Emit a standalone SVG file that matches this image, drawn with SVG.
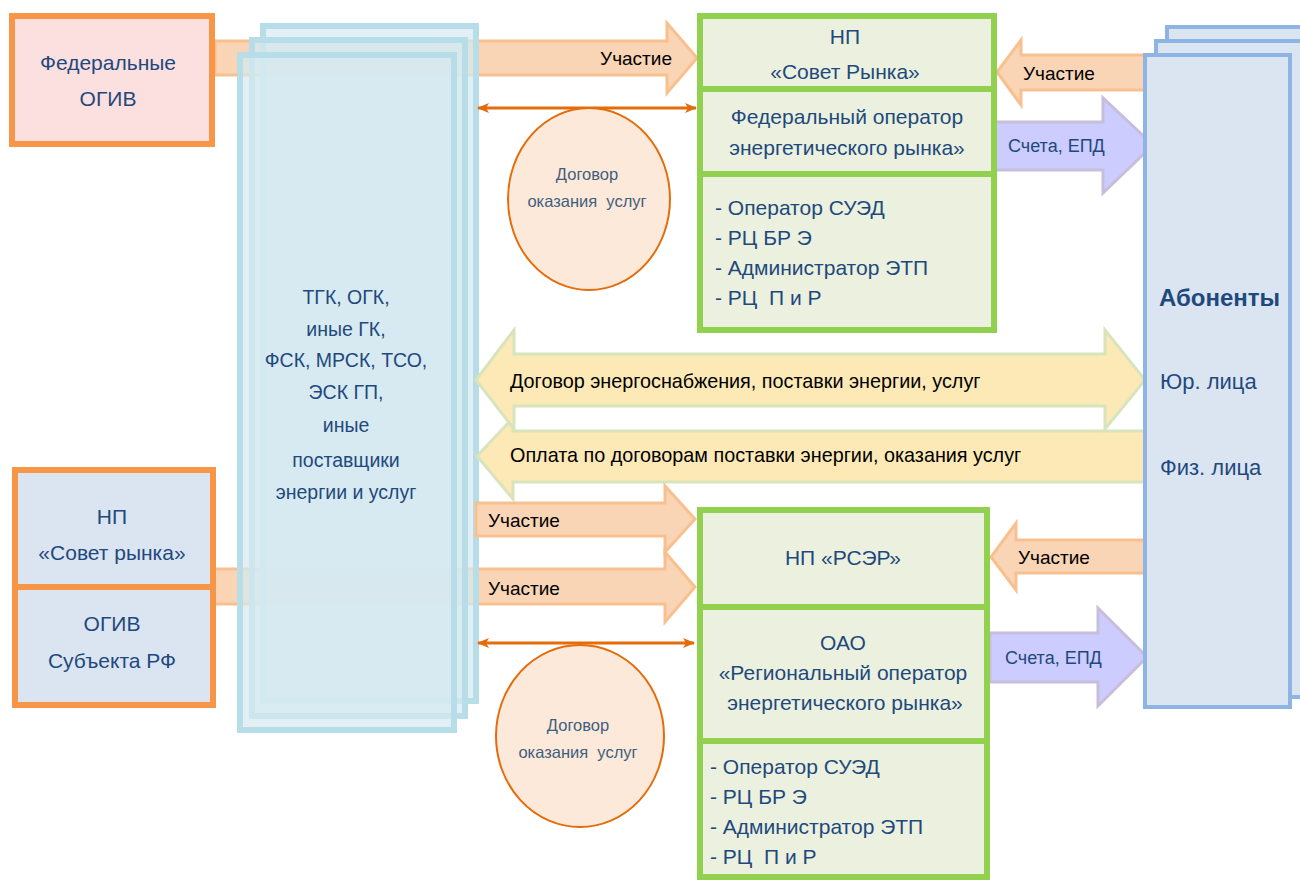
<svg xmlns="http://www.w3.org/2000/svg" width="1300" height="883" viewBox="0 0 1300 883">
<style>
  text{white-space:pre;}
  .t{font-family:"Liberation Sans",Arial,sans-serif;fill:#1f497d;}
  .c{text-anchor:middle;}
  .blk{font-family:"Liberation Sans",Arial,sans-serif;fill:#000;}
  .org{fill:#f9d5b6;stroke:#f9c08f;stroke-width:3;}
  .yel{fill:#fde9b6;stroke:#d7e4bc;stroke-width:3;}
  .pur{fill:#ccccff;stroke:#c8bddb;stroke-width:3;}
  .grn{fill:#ebf1de;stroke:#92d050;stroke-width:6;}
  .ob{stroke:#f79646;stroke-width:6;}
  .blu{fill:#d6eaf1;fill-opacity:0.7;stroke:#b7dde8;stroke-width:6;}
  .ab{fill:#dbe5f1;stroke:#8eb4e3;stroke-width:4;}
  .dbl{stroke:#e46c0a;stroke-width:3;fill:none;}
  .ell{fill:#fde9d9;stroke:#e46c0a;stroke-width:2;}
  .et{fill:#3f5f80;}
</style>
<defs>
  <marker id="ah" viewBox="0 0 12 10" refX="11" refY="5" markerWidth="12" markerHeight="10" markerUnits="userSpaceOnUse" orient="auto-start-reverse">
    <path d="M0,0 L12,5 L0,10 L3,5 z" fill="#e46c0a"/>
  </marker>
</defs>

<rect width="1300" height="883" fill="#ffffff"/>

<g id="connectors">
  <polygon class="org" points="215,41 667,41 667,23 697,58 667,93 667,75 215,75"/>
  <polygon class="org" points="213,569 665,569 665,552 695,587 665,622 665,604 213,604"/>
</g>

<g id="suppliers">
  <rect class="blu" x="263" y="26" width="213" height="675"/>
  <rect class="blu" x="252" y="40" width="213" height="676"/>
  <rect class="blu" x="240" y="55" width="214" height="675"/>
  <text class="t c" x="346" y="304" font-size="19.5">ТГК, ОГК,</text>
  <text class="t c" x="346" y="336" font-size="19.5">иные ГК,</text>
  <text class="t c" x="346" y="367" font-size="19.5">ФСК, МРСК, ТСО,</text>
  <text class="t c" x="346" y="399" font-size="19.5">ЭСК ГП,</text>
  <text class="t c" x="346" y="432" font-size="19.5">иные</text>
  <text class="t c" x="346" y="467" font-size="19.5">поставщики</text>
  <text class="t c" x="346" y="499" font-size="19.5">энергии и услуг</text>
</g>

<g id="connectors2">
  <text class="blk" x="672" y="65" font-size="19" text-anchor="end">Участие</text>
  <polygon class="org" points="1146,55 1021,55 1021,40 997,72 1021,105 1021,90 1146,90"/>
  <text class="blk" x="1023" y="80" font-size="19">Участие</text>
  <polygon class="pur" points="995,122 1103,122 1103,98 1153,145 1103,193 1103,170 995,170"/>
  <text class="t" x="1008" y="152" font-size="18">Счета, ЕПД</text>
  <line class="dbl" x1="478" y1="108" x2="696" y2="108" marker-start="url(#ah)" marker-end="url(#ah)"/>
  <polygon class="yel" points="1146,431 513,431 513,418 477,456 513,499 513,482 1146,482"/>
  <polygon class="yel" points="476,380 514,330 514,354 1105,354 1105,330 1145,380 1105,429 1105,406 514,406 514,429"/>
  <text class="blk" x="510" y="388" font-size="19.8">Договор энергоснабжения, поставки энергии, услуг</text>
  <text class="blk" x="510" y="462" font-size="19.8">Оплата по договорам поставки энергии, оказания услуг</text>
  <polygon class="org" points="476,503 665,503 665,486 695,519 665,552 665,536 476,536"/>
  <text class="blk" x="488" y="527" font-size="19">Участие</text>
  <text class="blk" x="488" y="595" font-size="19">Участие</text>
  <polygon class="org" points="1146,540 1016,540 1016,523 991,557 1016,590 1016,573 1146,573"/>
  <text class="blk" x="1018" y="564" font-size="19">Участие</text>
  <polygon class="pur" points="990,633 1098,633 1098,608 1147,657 1098,706 1098,682 990,682"/>
  <text class="t" x="1005" y="664" font-size="18">Счета, ЕПД</text>
  <line class="dbl" x1="478" y1="643" x2="694" y2="643" marker-start="url(#ah)" marker-end="url(#ah)"/>
</g>

<g id="federal-ogiv">
  <rect class="ob" x="12" y="16" width="200" height="128" fill="#fcdfdf"/>
  <text class="t c" x="108" y="70" font-size="21">Федеральные</text>
  <text class="t c" x="108" y="106" font-size="21">ОГИВ</text>
</g>

<g id="regional-left">
  <rect class="ob" x="15" y="470" width="198" height="117" fill="#dbe5f1"/>
  <rect class="ob" x="15" y="587" width="198" height="118" fill="#dbe5f1"/>
  <text class="t c" x="112" y="524" font-size="21">НП</text>
  <text class="t c" x="112" y="560" font-size="21">«Совет рынка»</text>
  <text class="t c" x="112" y="631" font-size="21">ОГИВ</text>
  <text class="t c" x="112" y="668" font-size="21">Субъекта РФ</text>
</g>

<g id="contract-top">
  <ellipse class="ell" cx="589" cy="199" rx="81" ry="91"/>
  <text class="t c et" x="587" y="180" font-size="16.5">Договор</text>
  <text class="t c et" x="587" y="207" font-size="16.5">оказания  услуг</text>
</g>
<g id="contract-bottom">
  <ellipse class="ell" cx="580" cy="736" rx="84" ry="91"/>
  <text class="t c et" x="578" y="731" font-size="16.5">Договор</text>
  <text class="t c et" x="578" y="758" font-size="16.5">оказания  услуг</text>
</g>

<g id="federal-block">
  <rect class="grn" x="700" y="16" width="294" height="73"/>
  <rect class="grn" x="700" y="89" width="294" height="85"/>
  <rect class="grn" x="700" y="174" width="294" height="156"/>
  <text class="t c" x="845" y="44" font-size="21">НП</text>
  <text class="t c" x="845" y="79" font-size="21">«Совет Рынка»</text>
  <text class="t c" x="847" y="124" font-size="21">Федеральный оператор</text>
  <text class="t c" x="847" y="155" font-size="21">энергетического рынка»</text>
  <text class="t" x="715" y="215" font-size="21">- Оператор СУЭД</text>
  <text class="t" x="715" y="245" font-size="21">- РЦ БР Э</text>
  <text class="t" x="715" y="275" font-size="21">- Администратор ЭТП</text>
  <text class="t" x="715" y="305" font-size="21">- РЦ  П и Р</text>
</g>

<g id="regional-block">
  <rect class="grn" x="700" y="510" width="287" height="97"/>
  <rect class="grn" x="700" y="607" width="287" height="134"/>
  <rect class="grn" x="700" y="741" width="287" height="136"/>
  <text class="t c" x="843" y="565" font-size="21">НП «РСЭР»</text>
  <text class="t c" x="843" y="650" font-size="21">ОАО</text>
  <text class="t c" x="843" y="680" font-size="21">«Региональный оператор</text>
  <text class="t c" x="845" y="710" font-size="21">энергетического рынка»</text>
  <text class="t" x="710" y="774" font-size="21">- Оператор СУЭД</text>
  <text class="t" x="710" y="804" font-size="21">- РЦ БР Э</text>
  <text class="t" x="710" y="834" font-size="21">- Администратор ЭТП</text>
  <text class="t" x="710" y="864" font-size="21">- РЦ  П и Р</text>
</g>

<g id="abonenty">
  <rect class="ab" x="1167" y="27" width="160" height="655"/>
  <rect class="ab" x="1156" y="41" width="160" height="656"/>
  <rect class="ab" x="1145" y="55" width="145" height="652"/>
  <text class="t" x="1159" y="306" font-size="24" font-weight="bold">Абоненты</text>
  <text class="t" x="1160" y="389" font-size="22">Юр. лица</text>
  <text class="t" x="1160" y="475" font-size="22">Физ. лица</text>
</g>
</svg>
